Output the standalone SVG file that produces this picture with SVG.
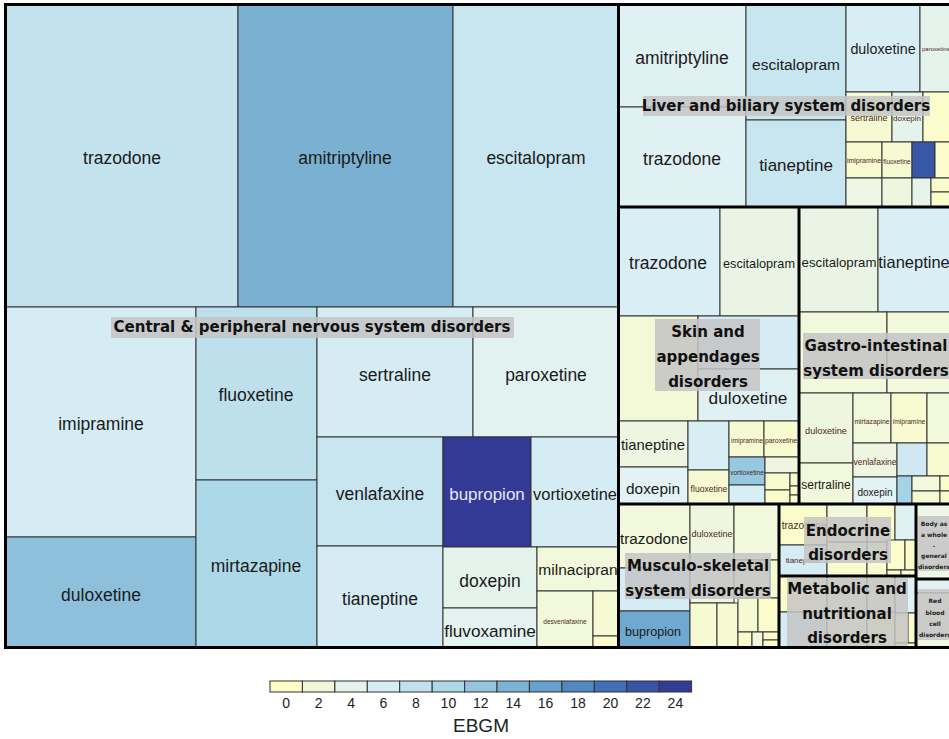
<svg xmlns="http://www.w3.org/2000/svg" width="949" height="739" viewBox="0 0 949 739">
<style>
rect.c{stroke:#333;stroke-width:1}
.gb{fill:none;stroke:#000;stroke-width:3}
.t{font-family:"Liberation Sans",Arial,sans-serif;fill:#1a1a1a;text-anchor:middle;dominant-baseline:central}
.s{fill:#4a2a22}
.gl{font-family:"DejaVu Sans",Verdana,sans-serif;font-weight:bold;font-size:15px;fill:#111;text-anchor:middle;dominant-baseline:central}
.gs{font-family:"DejaVu Sans",Verdana,sans-serif;font-weight:bold;font-size:6px;fill:#222;text-anchor:middle;dominant-baseline:central}
.bg{fill:#c4c4c4;fill-opacity:0.85}
.lt{font-family:"Liberation Sans",Arial,sans-serif;fill:#222;text-anchor:middle;font-size:14px}
.lt.ti{font-size:19px}
</style>
<rect width="949" height="739" fill="#fff"/>

<g id="cns">
<rect class="c" x="6" y="4" width="232" height="303" fill="#c2e2ee"/>
<rect class="c" x="238" y="4" width="215" height="303" fill="#7ab0d2"/>
<rect class="c" x="453" y="4" width="166" height="303" fill="#c8e6f0"/>
<rect class="c" x="6" y="307" width="190" height="230" fill="#d5ecf4"/>
<rect class="c" x="6" y="537" width="190" height="111" fill="#8ec0dc"/>
<rect class="c" x="196" y="307" width="121" height="173" fill="#bde0ec"/>
<rect class="c" x="196" y="480" width="121" height="168" fill="#acd8e7"/>
<rect class="c" x="317" y="307" width="156" height="130" fill="#d5ecf4"/>
<rect class="c" x="473" y="307" width="146" height="130" fill="#e2f2f1"/>
<rect class="c" x="317" y="437" width="126" height="109" fill="#c8e6f0"/>
<rect class="c" x="317" y="546" width="126" height="102" fill="#d5ecf4"/>
<rect class="c" x="443" y="437" width="88" height="110" fill="#333a95"/>
<rect class="c" x="531" y="437" width="88" height="110" fill="#d5ecf4"/>
<rect class="c" x="443" y="547" width="94" height="61" fill="#e4f3ec"/>
<rect class="c" x="443" y="608" width="94" height="40" fill="#e4f3ef"/>
<rect class="c" x="537" y="547" width="82" height="44" fill="#f1f8db"/>
<rect class="c" x="537" y="591" width="56" height="57" fill="#f1f8db"/>
<rect class="c" x="593" y="591" width="26" height="45" fill="#f5fad3"/>
<rect class="c" x="593" y="636" width="26" height="12" fill="#fafccc"/>
<text class="t" x="122" y="158" font-size="17.5">trazodone</text>
<text class="t" x="345" y="158" font-size="17.5">amitriptyline</text>
<text class="t" x="536" y="158" font-size="17.5">escitalopram</text>
<text class="t" x="101" y="424" font-size="17.5">imipramine</text>
<text class="t" x="101" y="595" font-size="17.5">duloxetine</text>
<text class="t" x="256" y="395" font-size="17.5">fluoxetine</text>
<text class="t" x="256" y="566" font-size="17.5">mirtazapine</text>
<text class="t" x="395" y="375" font-size="17.5">sertraline</text>
<text class="t" x="546" y="375" font-size="17.5">paroxetine</text>
<text class="t" x="380" y="494" font-size="17.5">venlafaxine</text>
<text class="t" x="380" y="599" font-size="17.5">tianeptine</text>
<text class="t" x="487" y="494" font-size="17" style="fill:#e8e8f8">bupropion</text>
<text class="t" x="575" y="494" font-size="16.4">vortioxetine</text>
<text class="t" x="490" y="581" font-size="17.5">doxepin</text>
<text class="t" x="490" y="631" font-size="17.2">fluvoxamine</text>
<text class="t" x="578" y="569" font-size="15.5">milnacipran</text>
<text class="t s" x="565" y="621" font-size="6.5">desvenlafaxine</text>
<rect class="bg" x="111" y="317" width="403" height="21"/>
<text class="gl" x="312" y="327">Central &amp; peripheral nervous system disorders</text>
</g>

<g id="liver">
<rect class="c" x="619" y="4" width="127" height="103" fill="#e0f1f4"/>
<rect class="c" x="619" y="107" width="127" height="100" fill="#e0f1f4"/>
<rect class="c" x="746" y="4" width="100" height="116" fill="#c8e6f0"/>
<rect class="c" x="746" y="120" width="100" height="87" fill="#c8e6f0"/>
<rect class="c" x="846" y="4" width="74" height="88" fill="#d8eef5"/>
<rect class="c" x="920" y="4" width="40" height="88" fill="#e4f3ec"/>
<rect class="c" x="846" y="92" width="46" height="50" fill="#f5fad3"/>
<rect class="c" x="892" y="92" width="31" height="50" fill="#e4f3ec"/>
<rect class="c" x="923" y="92" width="37" height="50" fill="#fafccc"/>
<rect class="c" x="846" y="142" width="36" height="36" fill="#f8fbcf"/>
<rect class="c" x="882" y="142" width="30" height="36" fill="#f5fad3"/>
<rect class="c" x="912" y="142" width="23" height="36" fill="#3a56a6"/>
<rect class="c" x="935" y="142" width="25" height="36" fill="#fafccc"/>
<rect class="c" x="846" y="178" width="36" height="29" fill="#eef6e6"/>
<rect class="c" x="882" y="178" width="30" height="29" fill="#eef6e0"/>
<rect class="c" x="912" y="178" width="19" height="29" fill="#e8f4ea"/>
<rect class="c" x="931" y="178" width="29" height="14" fill="#fafccc"/>
<rect class="c" x="931" y="192" width="29" height="15" fill="#fafccc"/>
<text class="t" x="682" y="58" font-size="17.5">amitriptyline</text>
<text class="t" x="682" y="159" font-size="17.5">trazodone</text>
<text class="t" x="796" y="64" font-size="15.5">escitalopram</text>
<text class="t" x="796" y="165" font-size="17">tianeptine</text>
<text class="t" x="883" y="49" font-size="14.3">duloxetine</text>
<text class="t s" x="936" y="49" font-size="6">paroxetine</text>
<text class="t s" x="869" y="118" font-size="9">sertraline</text>
<text class="t s" x="907" y="118" font-size="8">doxepin</text>
<text class="t s" x="864" y="160" font-size="7">imipramine</text>
<text class="t s" x="897" y="161" font-size="6.4">fluoxetine</text>
<rect class="bg" x="643" y="96" width="287" height="20"/>
<text class="gl" x="786" y="106">Liver and biliary system disorders</text>
</g>

<g id="skin">
<rect class="c" x="619" y="207" width="101" height="109" fill="#daeef5"/>
<rect class="c" x="720" y="207" width="79" height="109" fill="#eaf4e5"/>
<rect class="c" x="619" y="316" width="79" height="105" fill="#f3f9d6"/>
<rect class="c" x="698" y="316" width="101" height="53" fill="#d5ecf4"/>
<rect class="c" x="698" y="369" width="101" height="52" fill="#e0f1f4"/>
<rect class="c" x="619" y="421" width="69" height="46" fill="#eef6e2"/>
<rect class="c" x="619" y="467" width="69" height="37" fill="#e3f2f4"/>
<rect class="c" x="688" y="421" width="41" height="49" fill="#d8eef5"/>
<rect class="c" x="688" y="470" width="41" height="34" fill="#f5fad3"/>
<rect class="c" x="729" y="421" width="35" height="36" fill="#f5fad3"/>
<rect class="c" x="764" y="421" width="35" height="36" fill="#f8fbcf"/>
<rect class="c" x="729" y="457" width="36" height="28" fill="#96c8df"/>
<rect class="c" x="729" y="485" width="36" height="19" fill="#d8eef5"/>
<rect class="c" x="765" y="457" width="34" height="16" fill="#eef6e0"/>
<rect class="c" x="765" y="473" width="25" height="17" fill="#f8fbcf"/>
<rect class="c" x="765" y="490" width="25" height="14" fill="#fafccc"/>
<rect class="c" x="790" y="473" width="9" height="13" fill="#fafccc"/>
<rect class="c" x="790" y="486" width="9" height="9" fill="#fafccc"/>
<rect class="c" x="790" y="495" width="9" height="9" fill="#fafccc"/>
<text class="t" x="668" y="263" font-size="17.5">trazodone</text>
<text class="t" x="759" y="264" font-size="12.7">escitalopram</text>
<text class="t" x="748" y="398" font-size="17.3">duloxetine</text>
<text class="t" x="653" y="445" font-size="14.8">tianeptine</text>
<text class="t" x="653" y="488" font-size="15.4">doxepin</text>
<text class="t s" x="709" y="489" font-size="8.6">fluoxetine</text>
<text class="t s" x="747" y="440" font-size="6.5">imipramine</text>
<text class="t s" x="781" y="440" font-size="6.9">paroxetine</text>
<text class="t s" x="747" y="472" font-size="6.6">vortioxetine</text>
<rect class="bg" x="655" y="319" width="105" height="72"/>
<text class="gl" x="708" y="332">Skin and</text>
<text class="gl" x="708" y="357">appendages</text>
<text class="gl" x="708" y="382">disorders</text>
</g>

<g id="gastro">
<rect class="c" x="799" y="207" width="79" height="105" fill="#eaf4e5"/>
<rect class="c" x="878" y="207" width="82" height="105" fill="#daeef5"/>
<rect class="c" x="799" y="312" width="88" height="81" fill="#f1f8db"/>
<rect class="c" x="887" y="312" width="73" height="81" fill="#f1f8db"/>
<rect class="c" x="799" y="393" width="54" height="70" fill="#eef6e0"/>
<rect class="c" x="799" y="463" width="54" height="41" fill="#f1f8db"/>
<rect class="c" x="853" y="393" width="38" height="50" fill="#f1f8db"/>
<rect class="c" x="891" y="393" width="36" height="50" fill="#f8fbcf"/>
<rect class="c" x="927" y="393" width="33" height="50" fill="#f1f8db"/>
<rect class="c" x="853" y="443" width="44" height="34" fill="#eef6e2"/>
<rect class="c" x="853" y="477" width="44" height="27" fill="#e3f2f4"/>
<rect class="c" x="897" y="443" width="30" height="33" fill="#cfe8f2"/>
<rect class="c" x="927" y="443" width="33" height="33" fill="#f8fbcf"/>
<rect class="c" x="897" y="476" width="15" height="28" fill="#a4d3e6"/>
<rect class="c" x="912" y="476" width="28" height="15" fill="#f1f8db"/>
<rect class="c" x="912" y="491" width="28" height="13" fill="#f5fad3"/>
<rect class="c" x="940" y="476" width="20" height="15" fill="#fafccc"/>
<rect class="c" x="940" y="491" width="20" height="13" fill="#fafccc"/>
<text class="t" x="839" y="262" font-size="13.2">escitalopram</text>
<text class="t" x="914" y="262" font-size="16.5">tianeptine</text>
<text class="t s" x="826" y="431" font-size="9.2">duloxetine</text>
<text class="t" x="826" y="485" font-size="12">sertraline</text>
<text class="t s" x="872" y="421" font-size="6.8">mirtazapine</text>
<text class="t s" x="909" y="421" font-size="6.7">imipramine</text>
<text class="t s" x="875" y="462" font-size="8.5">venlafaxine</text>
<text class="t" x="875" y="492" font-size="10">doxepin</text>
<rect class="bg" x="803" y="333" width="157" height="46"/>
<text class="gl" x="876" y="346">Gastro-intestinal</text>
<text class="gl" x="876" y="371">system disorders</text>
</g>

<g id="musculo">
<rect class="c" x="619" y="504" width="71" height="64" fill="#f1f8db"/>
<rect class="c" x="619" y="568" width="71" height="43" fill="#d5ecf4"/>
<rect class="c" x="619" y="611" width="71" height="37" fill="#70a9d0"/>
<rect class="c" x="690" y="504" width="44" height="99" fill="#eef6e0"/>
<rect class="c" x="734" y="504" width="45" height="56" fill="#f1f8db"/>
<rect class="c" x="734" y="560" width="36" height="38" fill="#f1f8db"/>
<rect class="c" x="770" y="560" width="9" height="38" fill="#f8fbcf"/>
<rect class="c" x="690" y="603" width="27" height="45" fill="#f5fad3"/>
<rect class="c" x="717" y="603" width="21" height="45" fill="#f5fad3"/>
<rect class="c" x="738" y="598" width="20" height="34" fill="#f5fad3"/>
<rect class="c" x="758" y="598" width="21" height="34" fill="#fafccc"/>
<rect class="c" x="738" y="632" width="14" height="16" fill="#fafccc"/>
<rect class="c" x="752" y="632" width="11" height="16" fill="#f1f8db"/>
<rect class="c" x="763" y="632" width="16" height="8" fill="#fafccc"/>
<rect class="c" x="763" y="640" width="16" height="8" fill="#fafccc"/>
<text class="t" x="654" y="538" font-size="15.3">trazodone</text>
<text class="t s" x="712" y="534" font-size="9">duloxetine</text>
<text class="t" x="653" y="632" font-size="12.6">bupropion</text>
<rect class="bg" x="625" y="553" width="146" height="46"/>
<text class="gl" x="698" y="566">Musculo-skeletal</text>
<text class="gl" x="698" y="591">system disorders</text>
</g>

<g id="endocrine">
<rect class="c" x="779" y="504" width="48" height="41" fill="#fafccc"/>
<rect class="c" x="779" y="545" width="48" height="31" fill="#d5ecf4"/>
<rect class="c" x="827" y="504" width="40" height="38" fill="#f1f8db"/>
<rect class="c" x="867" y="504" width="28" height="38" fill="#fafccc"/>
<rect class="c" x="895" y="504" width="21" height="36" fill="#e0f1f4"/>
<rect class="c" x="827" y="542" width="40" height="34" fill="#f8fbcf"/>
<rect class="c" x="867" y="542" width="20" height="34" fill="#f8fbcf"/>
<rect class="c" x="887" y="540" width="18" height="30" fill="#fafccc"/>
<rect class="c" x="905" y="540" width="11" height="30" fill="#fafccc"/>
<rect class="c" x="887" y="570" width="14" height="6" fill="#fafccc"/>
<rect class="c" x="901" y="570" width="15" height="6" fill="#fafccc"/>
<text class="t s" x="804" y="525" font-size="10">trazodone</text>
<text class="t s" x="803" y="560" font-size="8">tianeptine</text>
<rect class="bg" x="804" y="517" width="87" height="46"/>
<text class="gl" x="848" y="531">Endocrine</text>
<text class="gl" x="848" y="555">disorders</text>
</g>

<g id="metabolic">
<rect class="c" x="779" y="576" width="48" height="36" fill="#fafccc"/>
<rect class="c" x="779" y="612" width="48" height="36" fill="#d5ecf4"/>
<rect class="c" x="827" y="576" width="40" height="36" fill="#f1f8db"/>
<rect class="c" x="867" y="576" width="28" height="36" fill="#f1f8db"/>
<rect class="c" x="895" y="576" width="21" height="37" fill="#e0f1f4"/>
<rect class="c" x="827" y="612" width="40" height="36" fill="#f8fbcf"/>
<rect class="c" x="867" y="612" width="28" height="36" fill="#fafccc"/>
<rect class="c" x="895" y="613" width="13" height="30" fill="#fafccc"/>
<rect class="c" x="908" y="613" width="8" height="30" fill="#fafccc"/>
<rect class="c" x="895" y="643" width="21" height="5" fill="#fafccc"/>
<rect class="bg" x="787" y="578" width="121" height="70"/>
<text class="gl" x="847" y="589">Metabolic and</text>
<text class="gl" x="847" y="614">nutritional</text>
<text class="gl" x="847" y="638">disorders</text>
</g>

<g id="body">
<rect class="c" x="916" y="504" width="44" height="75" fill="#eef6e6"/>
<rect class="bg" x="918" y="516" width="42" height="55"/>
<text class="gs" x="934" y="523">Body as</text>
<text class="gs" x="934" y="534">a whole</text>
<text class="gs" x="934" y="545">-</text>
<text class="gs" x="934" y="555">general</text>
<text class="gs" x="934" y="566">disorders</text>
</g>

<g id="redblood">
<rect class="c" x="916" y="579" width="44" height="14" fill="#e0f1f4"/>
<rect class="c" x="916" y="593" width="44" height="55" fill="#eef6e6"/>
<rect class="bg" x="918" y="589" width="42" height="51"/>
<text class="gs" x="935" y="600">Red</text>
<text class="gs" x="935" y="612">blood</text>
<text class="gs" x="935" y="623">cell</text>
<text class="gs" x="935" y="634">disorders</text>
</g>

<g id="connectors">
<rect class="gb" x="5.5" y="4.5" width="960" height="643"/>
<line class="gb" x1="618.5" y1="4" x2="618.5" y2="648"/>
<line class="gb" x1="619" y1="207" x2="960" y2="207"/>
<line class="gb" x1="799" y1="207" x2="799" y2="504"/>
<line class="gb" x1="619" y1="504" x2="960" y2="504"/>
<line class="gb" x1="779" y1="504" x2="779" y2="648"/>
<line class="gb" x1="916" y1="504" x2="916" y2="648"/>
<line class="gb" x1="779" y1="576" x2="916" y2="576"/>
<line class="gb" x1="916" y1="579" x2="960" y2="579"/>
</g>

<g id="legend">
<rect class="c" x="270" y="681" width="32.4" height="11" fill="#fbfcc6"/>
<rect class="c" x="302.4" y="681" width="32.4" height="11" fill="#f1f8da"/>
<rect class="c" x="334.9" y="681" width="32.4" height="11" fill="#e5f3ec"/>
<rect class="c" x="367.3" y="681" width="32.4" height="11" fill="#d5edf4"/>
<rect class="c" x="399.7" y="681" width="32.4" height="11" fill="#c1e2ed"/>
<rect class="c" x="432.2" y="681" width="32.4" height="11" fill="#acd8e7"/>
<rect class="c" x="464.6" y="681" width="32.4" height="11" fill="#93c5df"/>
<rect class="c" x="497" y="681" width="32.4" height="11" fill="#7cb2d4"/>
<rect class="c" x="529.4" y="681" width="32.4" height="11" fill="#66a1cb"/>
<rect class="c" x="561.9" y="681" width="32.4" height="11" fill="#5088bf"/>
<rect class="c" x="594.3" y="681" width="32.4" height="11" fill="#416fb5"/>
<rect class="c" x="626.7" y="681" width="32.4" height="11" fill="#3954a6"/>
<rect class="c" x="659.2" y="681" width="32.4" height="11" fill="#333b97"/>
<text class="lt" x="286.2" y="708">0</text>
<text class="lt" x="318.6" y="708">2</text>
<text class="lt" x="351.1" y="708">4</text>
<text class="lt" x="383.5" y="708">6</text>
<text class="lt" x="415.9" y="708">8</text>
<text class="lt" x="448.4" y="708">10</text>
<text class="lt" x="480.8" y="708">12</text>
<text class="lt" x="513.2" y="708">14</text>
<text class="lt" x="545.6" y="708">16</text>
<text class="lt" x="578.1" y="708">18</text>
<text class="lt" x="610.5" y="708">20</text>
<text class="lt" x="642.9" y="708">22</text>
<text class="lt" x="675.4" y="708">24</text>
<text class="lt ti" x="481" y="732">EBGM</text>
</g>
</svg>
